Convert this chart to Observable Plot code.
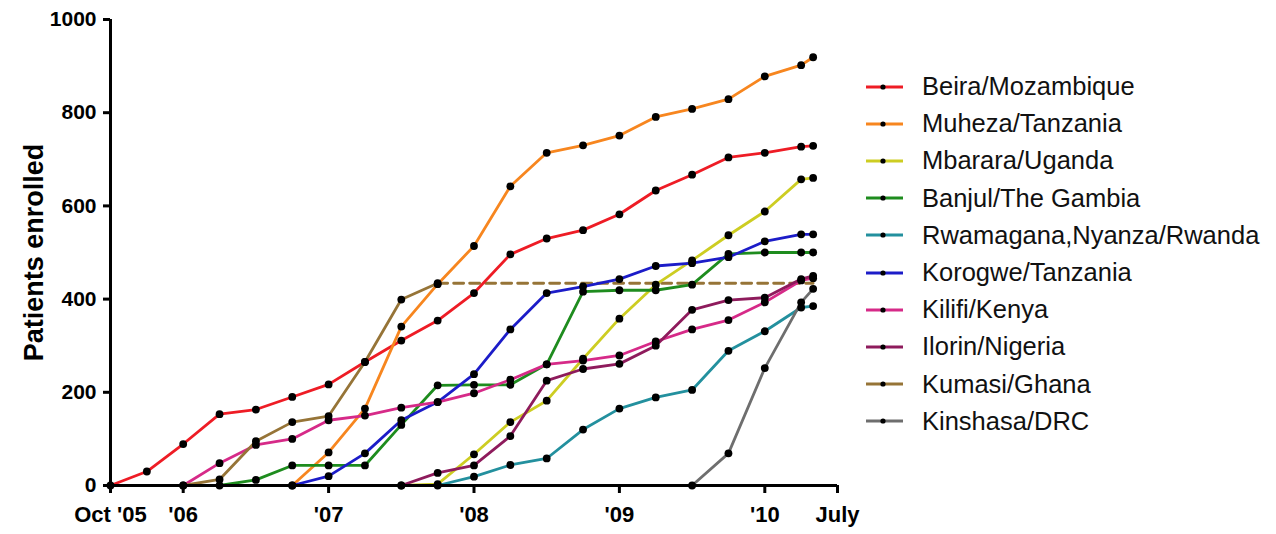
<!DOCTYPE html>
<html>
<head>
<meta charset="utf-8">
<script src="https://cdn.jsdelivr.net/npm/d3@7"></script>
<script src="https://cdn.jsdelivr.net/npm/@observablehq/plot@0.6"></script>
<style>
  html, body { margin: 0; padding: 0; background: #fff; }
  #wrap { position: relative; width: 1276px; height: 534px; font-family: "Liberation Sans", Arial, sans-serif; }
  #wrap svg text { font-size: 21px; font-weight: bold; }
  #wrap svg text.xlab { font-size: 22px; }
  #wrap svg text.ylab { font-size: 27px; }
  #legend { position: absolute; left: 866px; top: 68px; }
  .row { display: flex; align-items: center; height: 37.2px; }
  .row svg { flex: none; }
  .row span { margin-left: 19px; font-size: 25.5px; color: #111; white-space: nowrap; }
</style>
</head>
<body>
<div id="wrap"><div id="legend"></div></div>
<script>
// Quarter index: 0 = Oct '05; last point one month after quarter 19
const quarter = [0,1,2,3,4,5,6,7,8,9,10,11,12,13,14,15,16,17,18,19,19.33];
const xTicks = [0,2,6,10,14,18,20];
const xTickLabels = ["Oct '05","'06","'07","'08","'09","'10","July"];
const yTicks = [0,200,400,600,800,1000];

const sites = ["Beira/Mozambique","Muheza/Tanzania","Mbarara/Uganda","Banjul/The Gambia","Rwamagana,Nyanza/Rwanda","Korogwe/Tanzania","Kilifi/Kenya","Ilorin/Nigeria","Kumasi/Ghana","Kinshasa/DRC"];
const colors = ["#ee1c25","#f7861f","#cdcd22","#1e8c1e","#23909e","#1c1cc8","#d62a88","#8e1b5c","#967437","#6e6e6e"];

const N = null;
const beira     = [0,30,89,153,163,190,217,265,311,354,413,496,530,548,582,633,667,704,714,727,729];
const muheza    = [N,N,N,N,N,0,71,165,341,432,514,642,714,730,751,791,808,829,878,902,919];
const mbarara   = [N,N,N,N,N,N,N,N,0,3,67,136,182,272,358,431,483,537,588,657,660];
const banjul    = [N,N,N,0,12,43,43,43,130,215,216,216,260,416,419,419,431,497,500,500,500];
const rwamagana = [N,N,N,N,N,N,N,N,N,0,19,44,58,120,165,189,205,289,331,382,385];
const korogwe   = [N,N,N,N,N,0,20,69,140,179,239,335,413,427,443,471,477,490,524,539,539];
const kilifi    = [N,N,0,48,87,100,140,150,167,179,198,227,260,268,279,309,335,355,393,440,445];
const ilorin    = [N,N,N,N,N,N,N,N,0,27,43,106,225,250,261,300,377,398,403,443,450];
const kumasi    = [N,N,0,13,95,136,149,265,399,434,N,N,N,N,N,N,N,N,N,N,N];
const kinshasa  = [N,N,N,N,N,N,N,N,N,N,N,N,N,N,N,N,0,69,252,393,422];
// Kumasi: enrolment complete, carried forward as a dashed line
const kumasiPlateauQuarter = [9, 19.33];
const kumasiPlateauValue = [434, 434];

const series = [beira,muheza,mbarara,banjul,rwamagana,korogwe,kilifi,ilorin,kumasi,kinshasa];
const rows = sites.flatMap((s, i) => series[i]
  .map((v, j) => v == null ? null : {site: s, q: quarter[j], v})
  .filter(d => d));
const plateau = kumasiPlateauQuarter.map((q, i) => ({site: "Kumasi/Ghana", q, v: kumasiPlateauValue[i]}));

const chart = Plot.plot({
  width: 1276,
  height: 534,
  marginLeft: 110,
  marginRight: 439,
  marginTop: 19,
  marginBottom: 49,
  style: {fontFamily: "'Liberation Sans', Arial, sans-serif", background: "transparent", color: "#000"},
  x: {domain: [0, 20]},
  y: {domain: [0, 1000]},
  color: {domain: sites, range: colors},
  marks: [
    Plot.line(plateau, {x: "q", y: "v", stroke: "site", strokeWidth: 2.8, strokeDasharray: "10,6"}),
    Plot.line(rows, {x: "q", y: "v", z: "site", stroke: "site", strokeWidth: 2.8}),
    Plot.dot(rows, {x: "q", y: "v", r: 3.9, fill: "#000", stroke: "none"}),
    Plot.ruleY([0], {stroke: "#000", strokeWidth: 3}),
    Plot.ruleX([0], {stroke: "#000", strokeWidth: 3}),
    Plot.axisX({ticks: xTicks, tickFormat: d => xTickLabels[xTicks.indexOf(d)], tickSize: 8, tickPadding: 13,
      strokeWidth: 3, label: null}),
    Plot.axisY({ticks: yTicks, tickFormat: d => String(d), tickSize: 7, tickPadding: 7, strokeWidth: 3,
      label: "Patients enrolled", labelAnchor: "center", labelOffset: 87, labelArrow: "none"})
  ]
});
document.getElementById("wrap").prepend(chart);

// classes for the axis title and the x tick labels
d3.select(chart).selectAll("text").each(function() {
  const t = this.textContent.trim();
  if (t === "Patients enrolled") this.classList.add("ylab");
  else if (xTickLabels.includes(t)) this.classList.add("xlab");
});

// legend
const legend = d3.select("#legend");
sites.forEach((s, i) => {
  const row = legend.append("div").attr("class", "row");
  const sv = row.append("svg").attr("width", 37).attr("height", 10);
  sv.append("line").attr("x1", 0).attr("x2", 37).attr("y1", 5).attr("y2", 5)
    .attr("stroke", colors[i]).attr("stroke-width", 3);
  sv.append("circle").attr("cx", 17).attr("cy", 5).attr("r", 2.6).attr("fill", "#000");
  row.append("span").text(s);
});
</script>
</body>
</html>
